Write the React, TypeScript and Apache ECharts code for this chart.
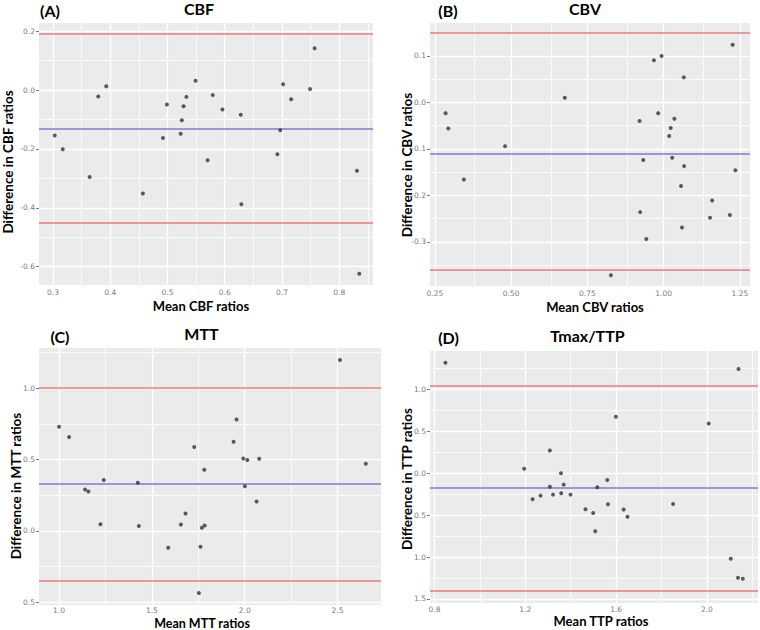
import React, { useEffect, useRef } from "react";
import * as echarts from "echarts";

// ---------- Data ----------
// (A) CBF
const CBF_MEAN = [0.303, 0.317, 0.364, 0.379, 0.393, 0.457, 0.492, 0.499, 0.525, 0.523, 0.528, 0.533, 0.549, 0.579, 0.570, 0.596, 0.628, 0.629, 0.692, 0.697, 0.702, 0.716, 0.749, 0.757, 0.831, 0.835];
const CBF_DIFF = [-0.154, -0.201, -0.295, -0.022, 0.013, -0.351, -0.163, -0.049, -0.102, -0.148, -0.055, -0.023, 0.032, -0.017, -0.238, -0.066, -0.084, -0.388, -0.218, -0.136, 0.020, -0.031, 0.004, 0.142, -0.274, -0.624];
const CBF_BIAS = -0.130;
const CBF_LOA = [0.186, -0.451];
const CBF_XTICKS = [0.3, 0.4, 0.5, 0.6, 0.7, 0.8];
const CBF_XMINOR = [0.35, 0.45, 0.55, 0.65, 0.75, 0.85];
const CBF_YTICKS = [0.2, 0.0, -0.2, -0.4, -0.6];
const CBF_YMINOR = [0.1, -0.1, -0.3, -0.5];

// (B) CBV
const CBV_MEAN = [0.285, 0.294, 0.345, 0.480, 0.676, 0.827, 0.921, 0.923, 0.933, 0.943, 0.968, 0.982, 0.993, 1.018, 1.023, 1.028, 1.035, 1.057, 1.060, 1.066, 1.067, 1.152, 1.159, 1.217, 1.226, 1.235];
const CBV_DIFF = [-0.023, -0.056, -0.166, -0.094, 0.010, -0.372, -0.040, -0.236, -0.124, -0.294, 0.091, -0.023, 0.100, -0.072, -0.055, -0.119, -0.035, -0.180, -0.269, 0.054, -0.137, -0.248, -0.211, -0.242, 0.124, -0.146];
const CBV_BIAS = -0.106;
const CBV_LOA = [0.146, -0.357];
const CBV_XTICKS = [0.25, 0.5, 0.75, 1.0, 1.25];
const CBV_XMINOR = [0.375, 0.625, 0.875, 1.125];
const CBV_YTICKS = [0.1, 0.0, -0.1, -0.2, -0.3];
const CBV_YMINOR = [0.15, 0.05, -0.05, -0.15, -0.25, -0.35];

// (C) MTT
const MTT_MEAN = [1.000, 1.054, 1.140, 1.158, 1.223, 1.241, 1.424, 1.430, 1.588, 1.656, 1.681, 1.728, 1.753, 1.762, 1.769, 1.782, 1.784, 1.940, 1.956, 1.992, 2.001, 2.014, 2.064, 2.078, 2.513, 2.652];
const MTT_DIFF = [0.730, 0.658, 0.290, 0.276, 0.047, 0.357, 0.338, 0.035, -0.118, 0.045, 0.122, 0.588, -0.435, -0.111, 0.022, 0.429, 0.038, 0.625, 0.781, 0.508, 0.313, 0.497, 0.206, 0.506, 1.198, 0.471];
const MTT_BIAS = 0.325;
const MTT_LOA = [0.997, -0.353];
const MTT_XTICKS = [1.0, 1.5, 2.0, 2.5];
const MTT_XMINOR = [1.25, 1.75, 2.25];
const MTT_YTICKS = [1.0, 0.5, 0.0, -0.5];
const MTT_YMINOR = [1.25, 0.75, 0.25, -0.25];

// (D) Tmax/TTP
const TTP_MEAN = [0.848, 1.195, 1.232, 1.267, 1.308, 1.308, 1.322, 1.357, 1.358, 1.369, 1.399, 1.465, 1.499, 1.508, 1.517, 1.561, 1.564, 1.599, 1.633, 1.650, 1.851, 2.008, 2.105, 2.137, 2.139, 2.158];
const TTP_DIFF = [1.317, 0.053, -0.311, -0.268, 0.271, -0.161, -0.256, -0.002, -0.240, -0.137, -0.256, -0.430, -0.474, -0.692, -0.169, -0.082, -0.371, 0.671, -0.434, -0.521, -0.367, 0.592, -1.021, -1.246, 1.242, -1.258];
const TTP_BIAS = -0.177;
const TTP_LOA = [1.040, -1.397];
const TTP_XTICKS = [0.8, 1.2, 1.6, 2.0];
const TTP_XMINOR = [1.0, 1.4, 1.8, 2.2];
const TTP_YTICKS = [1.0, 0.5, 0.0, -0.5, -1.0, -1.5];
const TTP_YMINOR = [1.25, 0.75, 0.25, -0.25, -0.75, -1.25];

const TAGS = ["(A)", "(B)", "(C)", "(D)"];
const TITLES = ["CBF", "CBV", "MTT", "Tmax/TTP"];
const X_NAMES = ["Mean CBF ratios", "Mean CBV ratios", "Mean MTT ratios", "Mean TTP ratios"];
const Y_NAMES = ["Difference in CBF ratios", "Difference in CBV ratios", "Difference in MTT ratios", "Difference in TTP ratios"];

// ---------- Layout ----------
const GRIDS = [
  { left: 39, top: 23, width: 334, height: 262 },
  { left: 430, top: 23, width: 320, height: 263 },
  { left: 39, top: 348, width: 342, height: 257 },
  { left: 430, top: 351, width: 328, height: 252 },
];
const X_RANGE = [[0.2755, 0.859], [0.234, 1.283], [0.892, 2.734], [0.78, 2.225]];
const Y_RANGE = [[-0.662, 0.228], [-0.395, 0.171], [-0.519, 1.282], [-1.548, 1.456]];
const X_DEC = [1, 2, 1, 1];
const Y_DEC = [1, 1, 1, 1];
const Y_ABS = [false, false, true, true];
const X_LABEL_MARGIN = [3, 3, 1.5, 2];
const TAG_POS = [[50, 10], [448, 10], [60, 336], [448.5, 337.5]];
const TITLE_POS = [[199, 8.5], [585, 8.5], [201.5, 333.5], [587.5, 335.5]];
const XNAME_POS = [[201, 306], [595, 307], [202, 623], [601, 621]];
const XNAME_SIZE = [13, 13, 12.5, 13];
const YNAME_POS = [[8, 162], [407, 165], [15.5, 486], [406.5, 479]];

const FONT = "Lato, 'Open Sans', sans-serif";

const PANELS = [
  { x: CBF_MEAN, y: CBF_DIFF, bias: CBF_BIAS, loa: CBF_LOA, xt: CBF_XTICKS, xm: CBF_XMINOR, yt: CBF_YTICKS, ym: CBF_YMINOR },
  { x: CBV_MEAN, y: CBV_DIFF, bias: CBV_BIAS, loa: CBV_LOA, xt: CBV_XTICKS, xm: CBV_XMINOR, yt: CBV_YTICKS, ym: CBV_YMINOR },
  { x: MTT_MEAN, y: MTT_DIFF, bias: MTT_BIAS, loa: MTT_LOA, xt: MTT_XTICKS, xm: MTT_XMINOR, yt: MTT_YTICKS, ym: MTT_YMINOR },
  { x: TTP_MEAN, y: TTP_DIFF, bias: TTP_BIAS, loa: TTP_LOA, xt: TTP_XTICKS, xm: TTP_XMINOR, yt: TTP_YTICKS, ym: TTP_YMINOR },
];

export default function App() {
  const ref = useRef<HTMLDivElement>(null);
  useEffect(() => {
    const chart = echarts.init(ref.current!, null, { renderer: "svg" });

    const grid: any[] = [];
    const xAxis: any[] = [];
    const yAxis: any[] = [];
    const series: any[] = [];
    const graphic: any[] = [];

    PANELS.forEach((p, i) => {
      grid.push({ ...GRIDS[i], show: false, containLabel: false });
      const g = GRIDS[i];
      graphic.push({
        type: "rect", z: -10, silent: true,
        shape: { x: g.left, y: g.top, width: g.width, height: g.height },
        style: { fill: "#ebebeb" },
      });
      const labelStyle = { fontSize: 7.5, lineHeight: 8, color: "#7a7a7a", fontFamily: "'DejaVu Sans', sans-serif" };
      xAxis.push({
        type: "value", gridIndex: i, min: X_RANGE[i][0], max: X_RANGE[i][1],
        axisLine: { show: false },
        axisTick: { show: true, length: 3, customValues: p.xt, lineStyle: { color: "#555", width: 0.8 } },
        axisLabel: { ...labelStyle, margin: X_LABEL_MARGIN[i], customValues: p.xt, formatter: (v: number) => v.toFixed(X_DEC[i]) },
        splitLine: { show: false },
      });
      yAxis.push({
        type: "value", gridIndex: i, min: Y_RANGE[i][0], max: Y_RANGE[i][1],
        axisLine: { show: false },
        axisTick: { show: true, length: 3, customValues: p.yt, lineStyle: { color: "#555", width: 0.8 } },
        axisLabel: {
          ...labelStyle, margin: 4, customValues: p.yt,
          formatter: (v: number) => (Y_ABS[i] ? Math.abs(v) : v).toFixed(Y_DEC[i]),
        },
        splitLine: { show: false },
      });

      const gl = (arr: number[], key: string, w: number) =>
        arr.map((v) => ({ [key]: v, lineStyle: { color: "#ffffff", width: w, type: "solid", opacity: 1 } }));
      series.push({
        type: "scatter", xAxisIndex: i, yAxisIndex: i, data: [], symbolSize: 0, silent: true, z: 1, zlevel: 0,
        markLine: {
          silent: true, symbol: ["none", "none"], label: { show: false }, animation: false, z: 1,
          emphasis: { disabled: true },
          data: [
            ...gl(p.xm, "xAxis", 0.8), ...gl(p.ym, "yAxis", 0.8),
            ...gl(p.xt, "xAxis", 1.4), ...gl(p.yt, "yAxis", 1.4),
          ],
        },
      });
      series.push({
        type: "scatter", xAxisIndex: i, yAxisIndex: i, silent: true, z: 6,
        data: p.x.map((xv, k) => [xv, p.y[k]]),
        symbol: "circle", symbolSize: 4,
        itemStyle: { color: "#333333" },
        markLine: {
          silent: true, symbol: ["none", "none"], label: { show: false }, animation: false, z: 3,
          data: [
            { yAxis: p.loa[0], lineStyle: { color: "#ec7b7b", width: 1.5, type: "solid" } },
            { yAxis: p.loa[1], lineStyle: { color: "#ec7b7b", width: 1.5, type: "solid" } },
            { yAxis: p.bias, lineStyle: { color: "#7b7bd6", width: 1.5, type: "solid" } },
          ],
        },
      });

      graphic.push({
        type: "text", x: TAG_POS[i][0], y: TAG_POS[i][1],
        style: { text: TAGS[i], font: `bold 16px ${FONT}`, fill: "#000", align: "center", verticalAlign: "middle" },
      });
      graphic.push({
        type: "text", x: TITLE_POS[i][0], y: TITLE_POS[i][1],
        style: { text: TITLES[i], font: `bold 16px ${FONT}`, fill: "#000", align: "center", verticalAlign: "middle" },
      });
      graphic.push({
        type: "text", x: XNAME_POS[i][0], y: XNAME_POS[i][1],
        style: { text: X_NAMES[i], font: `bold ${XNAME_SIZE[i]}px ${FONT}`, fill: "#000", align: "center", verticalAlign: "middle" },
      });
      graphic.push({
        type: "text", x: YNAME_POS[i][0], y: YNAME_POS[i][1], rotation: Math.PI / 2,
        style: { text: Y_NAMES[i], font: `bold 13.5px ${FONT}`, fill: "#000", align: "center", verticalAlign: "middle" },
      });
    });

    chart.setOption({
      animation: false,
      backgroundColor: "#ffffff",
      grid, xAxis, yAxis, series, graphic,
    });
    return () => chart.dispose();
  }, []);
  return <div ref={ref} style={{ position: "fixed", left: 0, top: 0, width: 760, height: 630 }} />;
}
